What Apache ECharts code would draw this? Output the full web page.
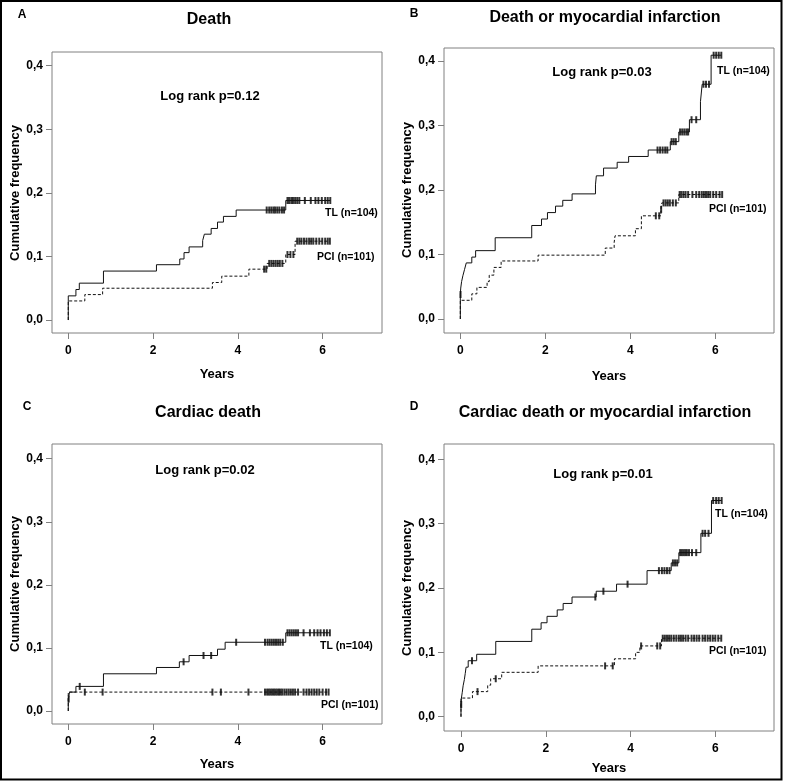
<!DOCTYPE html>
<html>
<head>
<meta charset="utf-8">
<script src="https://cdn.jsdelivr.net/npm/echarts@6/dist/echarts.min.js"></script>
<style>
html,body{margin:0;padding:0;background:#fff;}
#c{width:785px;height:782px;}
</style>
</head>
<body>
<div id="c"></div>
<script>
// ---------- DATA ----------
const xTicks = [0, 2, 4, 6];
const yTicks = [0, 0.1, 0.2, 0.3, 0.4];

const panelLetters = ['A', 'B', 'C', 'D'];
const panelTitles = ['Death', 'Death or myocardial infarction', 'Cardiac death', 'Cardiac death or myocardial infarction'];
const logRankTexts = ['Log rank p=0.12', 'Log rank p=0.03', 'Log rank p=0.02', 'Log rank p=0.01'];
const groupNames = ['TL (n=104)', 'PCI (n=101)'];

// Panel A: Death
const A_TL_t = [0, 0.18, 0.26, 0.83, 2.08, 2.63, 2.73, 2.85, 3.17, 3.21, 3.37, 3.52, 3.66, 3.96, 5.13];
const A_TL_y = [0.038, 0.048, 0.058, 0.077, 0.087, 0.096, 0.106, 0.115, 0.125, 0.135, 0.144, 0.154, 0.163, 0.173, 0.188];
const A_TL_cens = [4.68, 4.74, 4.79, 4.84, 4.88, 4.93, 4.98, 5.04, 5.09, 5.17, 5.21, 5.26, 5.30, 5.35, 5.40, 5.45, 5.58, 5.72, 5.83, 5.90, 5.98, 6.06, 6.12, 6.18];
const A_PCI_t = [0, 0.39, 0.81, 3.40, 3.62, 4.26, 4.69, 5.13, 5.35];
const A_PCI_y = [0.030, 0.040, 0.050, 0.059, 0.069, 0.080, 0.089, 0.103, 0.124];
const A_PCI_cens = [4.62, 4.67, 4.74, 4.79, 4.84, 4.89, 4.94, 4.99, 5.05, 5.17, 5.24, 5.31, 5.40, 5.45, 5.50, 5.56, 5.62, 5.68, 5.73, 5.78, 5.85, 5.92, 5.99, 6.06, 6.12, 6.17];

// Panel B: Death or MI
const B_TL_t = [0, 0.01, 0.03, 0.06, 0.10, 0.14, 0.27, 0.36, 0.82, 1.68, 1.91, 2.05, 2.24, 2.41, 2.63, 3.18, 3.20, 3.37, 3.69, 3.96, 4.42, 4.94, 5.14, 5.39, 5.65, 5.69, 5.90];
const B_TL_y = [0.038, 0.048, 0.058, 0.067, 0.077, 0.087, 0.096, 0.106, 0.126, 0.145, 0.155, 0.165, 0.175, 0.184, 0.194, 0.208, 0.222, 0.234, 0.243, 0.252, 0.262, 0.275, 0.290, 0.309, 0.337, 0.364, 0.409];
const B_TL_cens = [0.005, 4.64, 4.70, 4.76, 4.82, 4.87, 4.97, 5.02, 5.07, 5.17, 5.22, 5.27, 5.32, 5.36, 5.44, 5.55, 5.72, 5.78, 5.85, 5.96, 6.02, 6.08, 6.14];
const B_PCI_t = [0, 0.27, 0.39, 0.63, 0.68, 0.79, 0.96, 1.83, 3.41, 3.62, 3.64, 4.12, 4.26, 4.72, 4.74, 5.14];
const B_PCI_y = [0.029, 0.039, 0.049, 0.058, 0.068, 0.080, 0.090, 0.099, 0.110, 0.119, 0.129, 0.140, 0.160, 0.170, 0.180, 0.193];
const B_PCI_cens = [4.60, 4.68, 4.725, 4.78, 4.83, 4.88, 4.93, 5.00, 5.07, 5.16, 5.20, 5.25, 5.30, 5.36, 5.46, 5.55, 5.62, 5.68, 5.73, 5.78, 5.83, 5.88, 5.95, 6.02, 6.10, 6.16];

// Panel C: Cardiac death
const C_TL_t = [0, 0.03, 0.18, 0.83, 2.08, 2.62, 2.85, 3.52, 3.70, 5.13];
const C_TL_y = [0.019, 0.030, 0.039, 0.059, 0.069, 0.078, 0.088, 0.098, 0.109, 0.124];
const C_TL_cens = [0.01, 0.27, 2.72, 3.19, 3.37, 3.96, 4.64, 4.70, 4.75, 4.80, 4.85, 4.90, 4.95, 5.00, 5.06, 5.17, 5.22, 5.27, 5.32, 5.37, 5.42, 5.55, 5.70, 5.80, 5.88, 5.95, 6.03, 6.10, 6.17];
const C_PCI_t = [0];
const C_PCI_y = [0.030];
const C_PCI_cens = [0.39, 0.81, 3.40, 3.60, 4.25, 4.64, 4.69, 4.73, 4.77, 4.81, 4.85, 4.89, 4.93, 4.97, 5.01, 5.05, 5.10, 5.15, 5.20, 5.25, 5.30, 5.35, 5.42, 5.55, 5.62, 5.68, 5.74, 5.80, 5.86, 5.92, 6.00, 6.08, 6.14];

// Panel D: Cardiac death or MI
const D_TL_t = [0, 0.01, 0.03, 0.05, 0.08, 0.10, 0.12, 0.17, 0.37, 0.82, 1.67, 1.89, 2.03, 2.27, 2.41, 2.62, 3.19, 3.67, 4.39, 4.96, 5.14, 5.66, 5.91];
const D_TL_y = [0.019, 0.029, 0.038, 0.048, 0.058, 0.067, 0.077, 0.087, 0.097, 0.117, 0.136, 0.146, 0.156, 0.166, 0.176, 0.186, 0.195, 0.206, 0.227, 0.239, 0.255, 0.285, 0.336];
const D_TL_cens = [0.005, 0.26, 3.17, 3.36, 3.93, 4.67, 4.74, 4.80, 4.86, 4.92, 5.00, 5.05, 5.10, 5.17, 5.21, 5.25, 5.29, 5.33, 5.38, 5.45, 5.55, 5.70, 5.76, 5.84, 5.95, 6.02, 6.08, 6.15];
const D_PCI_t = [0, 0.27, 0.63, 0.70, 0.96, 1.82, 3.62, 4.12, 4.22, 4.73];
const D_PCI_y = [0.029, 0.039, 0.049, 0.059, 0.069, 0.079, 0.090, 0.100, 0.110, 0.122];
const D_PCI_cens = [0.39, 0.82, 3.40, 3.58, 4.25, 4.63, 4.70, 4.76, 4.81, 4.86, 4.91, 4.96, 5.02, 5.08, 5.14, 5.19, 5.24, 5.30, 5.36, 5.44, 5.50, 5.56, 5.62, 5.70, 5.76, 5.82, 5.88, 5.94, 6.00, 6.07, 6.14];

// ---------- LAYOUT ----------
const FONT = '"Liberation Sans", Arial, sans-serif';
const grids = [
  {left: 52, top: 52, width: 330, height: 281},
  {left: 444, top: 48, width: 330, height: 285},
  {left: 52, top: 444, width: 330, height: 280},
  {left: 444, top: 444, width: 330, height: 287}
];
const xBounds = [[-0.384, 7.40], [-0.384, 7.38], [-0.384, 7.40], [-0.401, 7.385]];
const yBounds = [[-0.0204, 0.4215], [-0.0217, 0.4202], [-0.0206, 0.4233], [-0.0222, 0.4238]];

const panelData = [
  {tl: [A_TL_t, A_TL_y, A_TL_cens], pci: [A_PCI_t, A_PCI_y, A_PCI_cens]},
  {tl: [B_TL_t, B_TL_y, B_TL_cens], pci: [B_PCI_t, B_PCI_y, B_PCI_cens]},
  {tl: [C_TL_t, C_TL_y, C_TL_cens], pci: [C_PCI_t, C_PCI_y, C_PCI_cens]},
  {tl: [D_TL_t, D_TL_y, D_TL_cens], pci: [D_PCI_t, D_PCI_y, D_PCI_cens]}
];

const textPos = [
  {letter: [22, 15], title: [209, 20], lr: [210, 96], tl: [325, 213], pci: [317, 257], yl: [15, 193], xl: [217, 374]},
  {letter: [414, 14], title: [605, 18], lr: [602, 72], tl: [717, 71], pci: [709, 209], yl: [407, 190], xl: [609, 376]},
  {letter: [27, 407], title: [208, 413], lr: [205, 470], tl: [320, 646], pci: [321, 705], yl: [15, 584], xl: [217, 764]},
  {letter: [414, 407], title: [605, 413], lr: [603, 474], tl: [715, 514], pci: [709, 651], yl: [407, 588], xl: [609, 768]}
];

function stepData(t, y, cens) {
  const end = Math.max.apply(null, cens.concat([t[t.length - 1]]));
  const d = [[0, 0]];
  for (let i = 0; i < t.length; i++) d.push([t[i], y[i]]);
  d.push([end, y[y.length - 1]]);
  return d;
}
function valAt(t, y, x) {
  let v = 0;
  for (let i = 0; i < t.length; i++) if (t[i] <= x) v = y[i];
  return v;
}
function censData(t, y, cens) {
  return cens.map(c => [c, valAt(t, y, c)]);
}

const LINE = '#111';
const AX = '#808080';
const option = {
  animation: false,
  backgroundColor: '#fff',
  grid: grids.map(g => Object.assign({show: true, borderColor: AX, borderWidth: 1, backgroundColor: 'transparent'}, g)),
  xAxis: grids.map((g, i) => ({
    type: 'value', gridIndex: i, min: xBounds[i][0], max: xBounds[i][1], position: 'bottom',
    axisLine: {show: false, onZero: false},
    splitLine: {show: false},
    axisTick: {show: true, inside: false, length: 6, lineStyle: {color: AX}, customValues: xTicks},
    axisLabel: {customValues: xTicks, margin: 12, color: '#000', fontSize: 12, fontWeight: 'bold', fontFamily: FONT}
  })),
  yAxis: grids.map((g, i) => ({
    type: 'value', gridIndex: i, min: yBounds[i][0], max: yBounds[i][1], position: 'left',
    axisLine: {show: false, onZero: false},
    splitLine: {show: false},
    axisTick: {show: true, inside: false, length: 6, lineStyle: {color: AX}, customValues: yTicks},
    axisLabel: {customValues: yTicks, margin: 9, color: '#000', fontSize: 12, fontWeight: 'bold', fontFamily: FONT,
      formatter: v => v.toFixed(1).replace('.', ',')}
  })),
  series: [],
  graphic: []
};

panelData.forEach((p, i) => {
  option.series.push({
    type: 'line', xAxisIndex: i, yAxisIndex: i, step: 'end', showSymbol: false, silent: true,
    lineStyle: {color: LINE, width: 1}, data: stepData(p.tl[0], p.tl[1], p.tl[2])
  });
  option.series.push({
    type: 'line', xAxisIndex: i, yAxisIndex: i, step: 'end', showSymbol: false, silent: true,
    lineStyle: {color: LINE, width: 1, type: [3, 2]}, data: stepData(p.pci[0], p.pci[1], p.pci[2])
  });
  option.series.push({
    type: 'scatter', xAxisIndex: i, yAxisIndex: i, symbol: 'rect', symbolSize: [2, 7], silent: true,
    itemStyle: {color: '#000'}, data: censData(p.tl[0], p.tl[1], p.tl[2])
  });
  option.series.push({
    type: 'scatter', xAxisIndex: i, yAxisIndex: i, symbol: 'rect', symbolSize: [2, 7], silent: true,
    itemStyle: {color: '#000'}, data: censData(p.pci[0], p.pci[1], p.pci[2])
  });

  const tp = textPos[i];
  const txt = (pos, text, size, align, extra) => Object.assign({
    type: 'text', x: pos[0], y: pos[1], silent: true,
    style: {text: text, fill: '#000', font: 'bold ' + size + 'px ' + FONT, align: align, verticalAlign: 'middle'}
  }, extra || {});
  option.graphic.push(txt(tp.letter, panelLetters[i], 12, 'center'));
  option.graphic.push(txt(tp.title, panelTitles[i], 16, 'center'));
  option.graphic.push(txt(tp.lr, logRankTexts[i], 13, 'center'));
  option.graphic.push(txt(tp.tl, groupNames[0], 10.5, 'left'));
  option.graphic.push(txt(tp.pci, groupNames[1], 10.5, 'left'));
  option.graphic.push(txt(tp.yl, 'Cumulative frequency', 13, 'center', {rotation: Math.PI / 2}));
  option.graphic.push(txt(tp.xl, 'Years', 13, 'center'));
});

option.graphic.push({
  type: 'rect', silent: true,
  shape: {x: 1, y: 1, width: 780.5, height: 778.5},
  style: {fill: 'none', stroke: '#000', lineWidth: 2}
});

const chart = echarts.init(document.getElementById('c'), null, {renderer: 'canvas'});
chart.setOption(option);
</script>
</body>
</html>
